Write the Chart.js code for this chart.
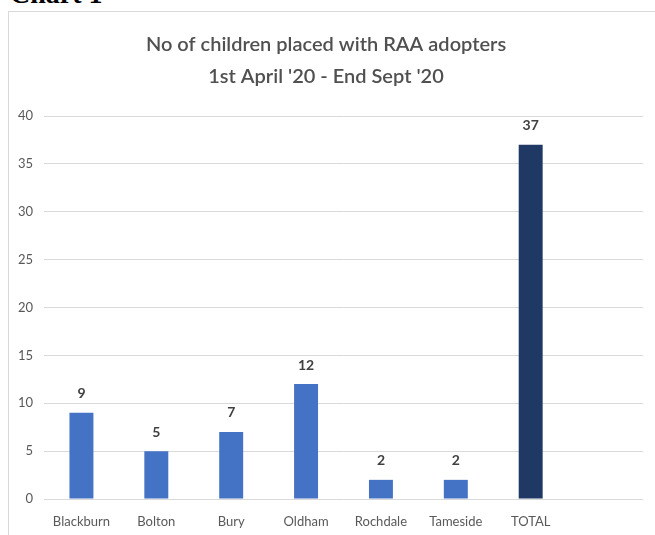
<!DOCTYPE html>
<html>
<head>
<meta charset="utf-8">
<script src="https://cdn.jsdelivr.net/npm/chart.js@4"></script>
<style>
  body { margin: 0; background: #fff; width: 655px; height: 535px; overflow: hidden; position: relative; }
  #heading { position: absolute; left: 10px; top: -22px; font: bold 28px "Liberation Serif", serif; color: #000; }
  #box { position: absolute; left: 8px; top: 11px; width: 660px; height: 540px; border-left: 1px solid #d9d9d9; border-top: 1px solid #d9d9d9; }
  #wrap { position: absolute; left: 9px; top: 12px; width: 646px; height: 523px; }
</style>
</head>
<body>
<div id="heading">Chart 1</div>
<div id="box"></div>
<div id="wrap"><canvas id="chart"></canvas></div>
<script>
const categories = ['Blackburn', 'Bolton', 'Bury', 'Oldham', 'Rochdale', 'Tameside', 'TOTAL', ''];
const placed = [9, 5, 7, 12, 2, 2, 37, null];
const yTicks = [0, 5, 10, 15, 20, 25, 30, 35, 40];
const titleLines = ['No of children placed with RAA adopters', "1st April '20 - End Sept '20"];

const barColors = categories.map(c => c === 'TOTAL' ? '#203864' : '#4472c4');

// value labels above each bar
const valueLabels = {
  id: 'valueLabels',
  afterDatasetsDraw(chart) {
    const { ctx } = chart;
    const meta = chart.getDatasetMeta(0);
    ctx.save();
    ctx.font = 'bold 14px Lato';
    ctx.fillStyle = '#404040';
    ctx.textAlign = 'center';
    ctx.textBaseline = 'middle';
    meta.data.forEach((bar, i) => {
      if (placed[i] === null) return;
      ctx.fillText(placed[i], bar.x, bar.y - 19);
    });
    ctx.restore();
  }
};

new Chart(document.getElementById('chart'), {
  type: 'bar',
  data: {
    labels: categories,
    datasets: [{
      data: placed,
      backgroundColor: barColors,
      borderWidth: 0,
      categoryPercentage: 1,
      barPercentage: 0.32
    }]
  },
  options: {
    responsive: true,
    maintainAspectRatio: false,
    animation: false,
    layout: { padding: { right: 12, top: 0, left: 0, bottom: 0 } },
    plugins: {
      legend: { display: false },
      tooltip: { enabled: false },
      title: {
        display: true,
        text: titleLines,
        color: '#505050',
        font: { family: 'Lato', size: 20, weight: '600', lineHeight: 1.6 },
        padding: { top: 17, bottom: 23 }
      }
    },
    scales: {
      x: {
        grid: { display: false },
        border: { display: false },
        ticks: { color: '#595959', font: { family: 'Lato', size: 13 }, padding: 7, maxRotation: 0 },
        afterFit(scale) { scale.height = 36; }
      },
      y: {
        min: 0,
        max: 40,
        afterBuildTicks(scale) { scale.ticks = yTicks.map(v => ({ value: v })); },
        grid: { color: '#d9d9d9', drawTicks: false },
        border: { display: false },
        ticks: { color: '#595959', font: { family: 'Lato', size: 13 }, padding: 11 },
        afterFit(scale) { scale.width = 35; }
      }
    }
  },
  plugins: [valueLabels]
});
</script>
</body>
</html>
